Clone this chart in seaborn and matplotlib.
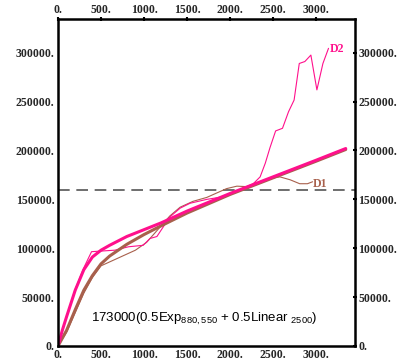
import matplotlib
matplotlib.use("Agg")
import matplotlib.pyplot as plt
from matplotlib.font_manager import FontProperties
import seaborn as sns
import pandas as pd

# Model curves (thick)
model_x = [0, 50, 100, 200, 300, 400, 500, 600, 800, 1000, 1200, 1500, 2000, 2500, 3000, 3345]
model_fast = [0, 16000, 30000, 57000, 78000, 91000, 98000, 103000, 112000, 119000, 126000, 138000, 156000, 173000, 190000, 202000]
model_slow = [0, 8000, 16000, 37000, 57000, 72000, 84000, 92000, 104000, 114000, 123000, 136000, 155000, 172000, 189000, 201000]

# Data series D1 (brown, thin)
d1_x = [0, 100, 200, 300, 400, 500, 700, 900, 1030, 1150, 1300, 1420, 1570, 1730, 1960,
        2080, 2200, 2310, 2465, 2580, 2700, 2810, 2900, 2960]
d1_y = [0, 14000, 34000, 54000, 70000, 82000, 90000, 98000, 106000, 118000, 133000, 142000,
        148000, 152000, 161000, 163500, 163000, 166000, 171500, 173000, 170000, 166000, 166000, 168000]

# Data series D2 (pink, thin)
d2_x = [0, 100, 200, 300, 390, 660, 820, 990, 1070, 1150, 1225, 1300, 1420, 1535, 1730, 1920,
        2115, 2270, 2350, 2410, 2465, 2530, 2610, 2680, 2745, 2805, 2870, 2940, 3010, 3080, 3145]
d2_y = [0, 30000, 58000, 80000, 96500, 98000, 101500, 103000, 110000, 112000, 122000, 132000,
        141000, 146000, 150000, 152700, 160000, 166000, 173000, 187000, 203000, 220000, 222700,
        239600, 251600, 289000, 291000, 297600, 262000, 289000, 304500]

x_ticks = [0, 500, 1000, 1500, 2000, 2500, 3000]
y_ticks = [0, 50000, 100000, 150000, 200000, 250000, 300000]
threshold = 160000

PINK = "#ff108c"
BROWN = "#a8604c"

sns.set_style("white")
plt.rcParams["mathtext.fontset"] = "custom"
plt.rcParams["mathtext.rm"] = "Liberation Sans"

fig = plt.figure(figsize=(4.09, 3.63), dpi=100)
ax = fig.add_axes([58 / 409, 17 / 363, 297 / 409, 327 / 363])

ax.axhline(threshold, color="#555555", lw=1.2, dashes=(7, 4), zorder=1)

d1 = pd.DataFrame({"x": d1_x, "y": d1_y})
d2 = pd.DataFrame({"x": d2_x, "y": d2_y})
slow = pd.DataFrame({"x": model_x, "y": model_slow})
fast = pd.DataFrame({"x": model_x, "y": model_fast})

sns.lineplot(data=d1, x="x", y="y", color=BROWN, lw=0.8, sort=False, ax=ax)
sns.lineplot(data=d2, x="x", y="y", color=PINK, lw=0.8, sort=False, ax=ax)
sns.lineplot(data=slow, x="x", y="y", color=BROWN, lw=2.2, sort=False, ax=ax)
sns.lineplot(data=fast, x="x", y="y", color=PINK, lw=2.2, sort=False, ax=ax)

ax.set_xlim(0, 3453)
ax.set_ylim(0, 334500)
ax.set_xlabel("")
ax.set_ylabel("")

tick_font = FontProperties(family="Liberation Serif", weight="bold", size=8.5)
ax.set_xticks(x_ticks)
ax.set_xticklabels([f"{v}." for v in x_ticks])
ax.set_yticks(y_ticks)
ax.set_yticklabels([f"{v}." for v in y_ticks])
ax.tick_params(axis="both", direction="inout", length=3, width=1.5,
               top=True, right=True, labeltop=True, labelright=True, pad=1, color="black")
# same font for all four sides
for t in ax.xaxis.get_major_ticks() + ax.yaxis.get_major_ticks():
    t.label1.set_fontproperties(tick_font)
    t.label2.set_fontproperties(tick_font)

for sp in ax.spines.values():
    sp.set_visible(True)
    sp.set_linewidth(1.8)
    sp.set_color("black")

ax.text(2965, 165700, "D1", color=BROWN, family="Liberation Serif", weight="bold", size=8.5,
        ha="left", va="center")
ax.text(3160, 304000, "D2", color=PINK, family="Liberation Serif", weight="bold", size=8.5,
        ha="left", va="center")

ax.text(380, 28000, r"173000(0.5Exp$_{880,550}$ + 0.5Linear $_{2500}$)",
        family="Liberation Sans", size=9.5, ha="left", va="center", color="black")

fig.savefig("out.png", dpi=100)
